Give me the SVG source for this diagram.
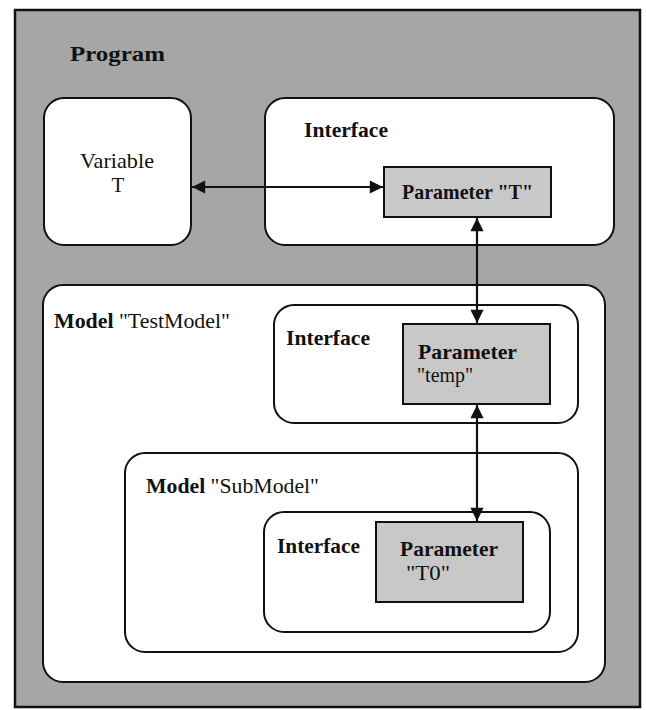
<svg xmlns="http://www.w3.org/2000/svg" width="646" height="710" viewBox="0 0 646 710">
  <style>
    text { font-family: "Liberation Serif", "Times New Roman", serif; fill: #111; font-size: 21px; }
    .b { font-weight: bold; }
    .box { fill: #fff; stroke: #111; stroke-width: 2; }
    .param { fill: #c8c8c8; stroke: #111; stroke-width: 2; }
    .link { stroke: #111; stroke-width: 2.2; fill: none; marker-start: url(#head); marker-end: url(#head); }
  </style>
  <defs>
    <marker id="head" viewBox="0 0 10 10" refX="10" refY="5" markerWidth="7" markerHeight="6" orient="auto-start-reverse" markerUnits="strokeWidth">
      <path d="M0,0 L10,5 L0,10 z" fill="#111"/>
    </marker>
  </defs>

  <!-- program frame -->
  <g id="program">
    <rect x="0" y="0" width="646" height="710" fill="#fff"/>
    <rect x="15" y="10" width="625" height="697" fill="#a6a6a6" stroke="#111" stroke-width="2.5"/>
    <text x="70" y="61" class="b" font-size="22" textLength="95" lengthAdjust="spacingAndGlyphs">Program</text>
  </g>

  <g id="variable">
    <rect class="box" x="44" y="98" width="147" height="147" rx="20"/>
    <text x="80" y="168" textLength="74" lengthAdjust="spacingAndGlyphs">Variable</text>
    <text x="118" y="192" text-anchor="middle">T</text>
  </g>

  <g id="interface-program">
    <rect class="box" x="265" y="98" width="349" height="147" rx="20"/>
    <text x="304" y="137" class="b" textLength="84" lengthAdjust="spacingAndGlyphs">Interface</text>
  </g>

  <g id="param-T">
    <rect class="param" x="384" y="167" width="167" height="50"/>
    <text x="402" y="199" class="b" textLength="131" lengthAdjust="spacingAndGlyphs">Parameter "T"</text>
  </g>

  <g id="model-testmodel">
    <rect class="box" x="43" y="285" width="562" height="397" rx="20"/>
    <text x="54" y="328" textLength="176" lengthAdjust="spacingAndGlyphs"><tspan class="b">Model</tspan> "TestModel"</text>
  </g>

  <g id="interface-testmodel">
    <rect class="box" x="274" y="305" width="304" height="118" rx="20"/>
    <text x="286" y="345" class="b" textLength="84" lengthAdjust="spacingAndGlyphs">Interface</text>
  </g>

  <g id="param-temp">
    <rect class="param" x="403" y="324" width="147" height="80"/>
    <text x="418" y="359" class="b" textLength="99" lengthAdjust="spacingAndGlyphs">Parameter</text>
    <text x="417" y="382" textLength="56" lengthAdjust="spacingAndGlyphs">"temp"</text>
  </g>

  <g id="model-submodel">
    <rect class="box" x="125" y="453" width="453" height="199" rx="20"/>
    <text x="146" y="493" textLength="173" lengthAdjust="spacingAndGlyphs"><tspan class="b">Model</tspan> "SubModel"</text>
  </g>

  <g id="interface-submodel">
    <rect class="box" x="264" y="512" width="286" height="120" rx="20"/>
    <text x="277" y="553" class="b" textLength="83" lengthAdjust="spacingAndGlyphs">Interface</text>
  </g>

  <g id="param-T0">
    <rect class="param" x="376" y="522" width="147" height="80"/>
    <text x="400" y="556" class="b" textLength="98" lengthAdjust="spacingAndGlyphs">Parameter</text>
    <text x="406" y="580" textLength="44" lengthAdjust="spacingAndGlyphs">"T0"</text>
  </g>

  <!-- bidirectional bindings between variable and parameters -->
  <g id="connectors">
    <line class="link" x1="192" y1="187" x2="383" y2="187"/>
    <line class="link" x1="477" y1="218" x2="477" y2="323"/>
    <line class="link" x1="477" y1="405" x2="477" y2="521"/>
  </g>
</svg>
